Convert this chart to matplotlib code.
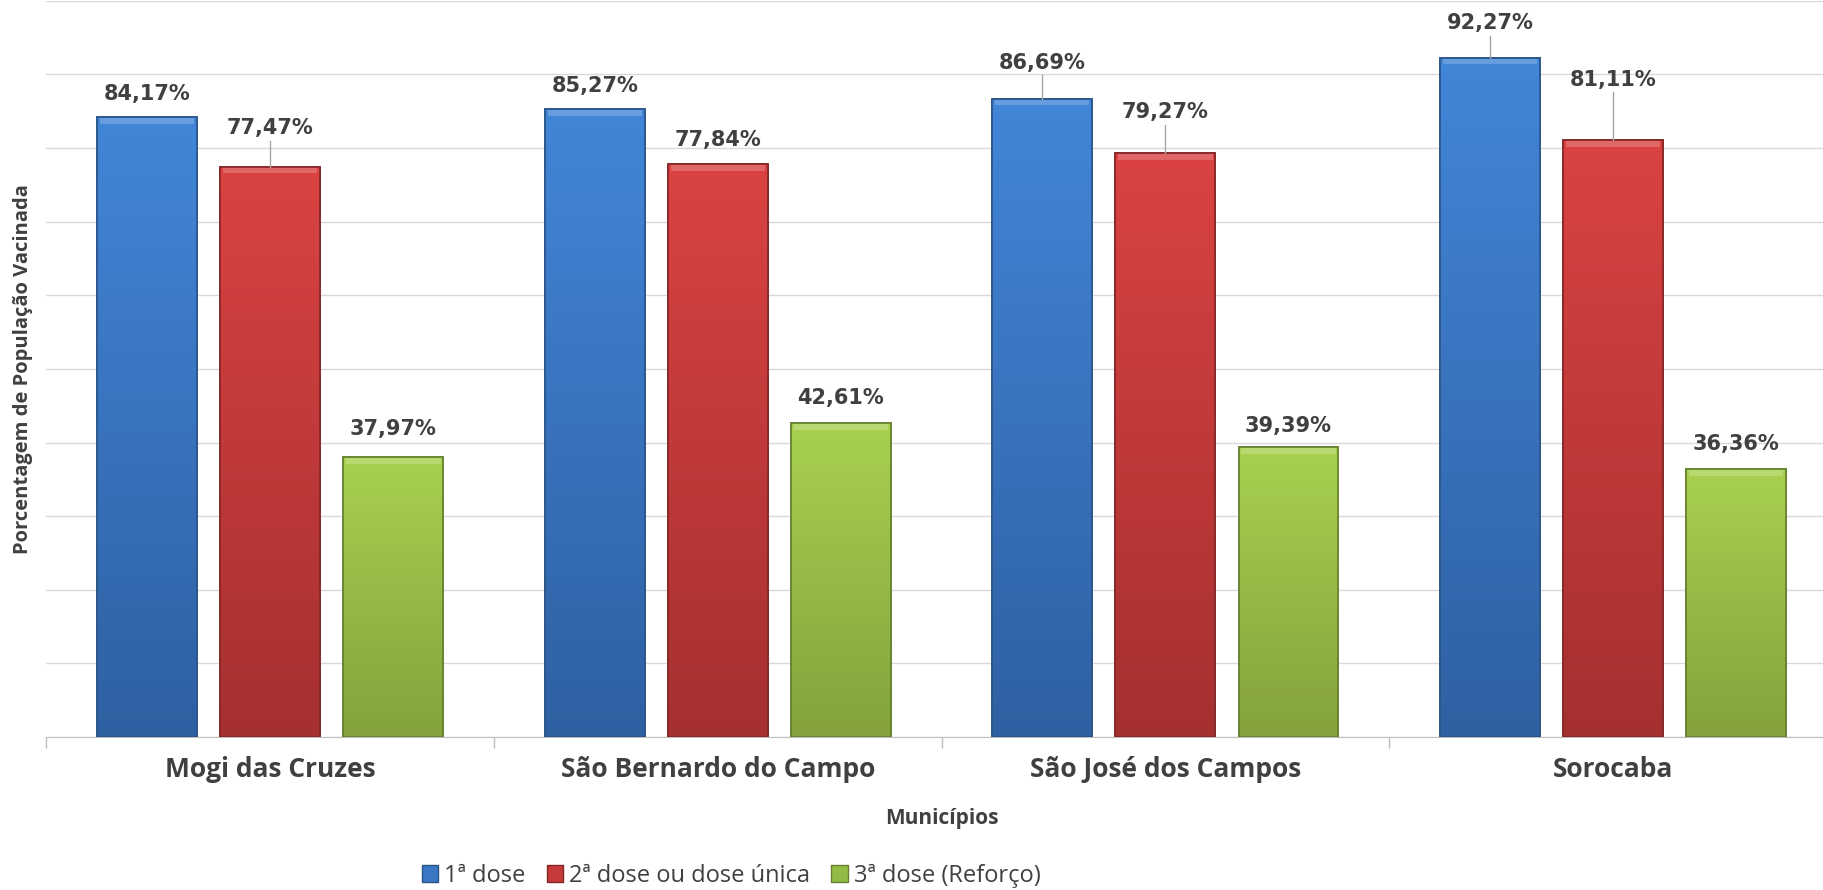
import matplotlib
matplotlib.use('Agg')
import matplotlib.pyplot as plt
import numpy as np
from matplotlib.patches import Patch
from matplotlib.colors import LinearSegmentedColormap

# data
municipios = ['Mogi das Cruzes', 'São Bernardo do Campo', 'São José dos Campos', 'Sorocaba']
series = ['1ª dose', '2ª dose ou dose única', '3ª dose (Reforço)']
dose1 = [84.17, 85.27, 86.69, 92.27]
dose2 = [77.47, 77.84, 79.27, 81.11]
dose3 = [37.97, 42.61, 39.39, 36.36]

# label offsets above bar (in %), larger ones get a leader line
off1 = [3.2, 3.2, 4.9, 4.7]
off2 = [5.2, 3.2, 5.6, 8.2]
off3 = [3.8, 3.4, 2.9, 3.4]

top_cols = ['#4286D8', '#DA4342', '#A8D14F']
bot_cols = ['#2F60A2', '#A53030', '#83A23D']
edge_cols = ['#2A5488', '#842626', '#66802F']
base_cols = ['#3A77C4', '#C63A3A', '#93BB45']

plt.rcParams['font.family'] = ['Open Sans', 'DejaVu Sans']

fig = plt.figure(figsize=(18.23, 8.90), dpi=100, facecolor='white')
ax = fig.add_axes([0.0255, 0.172, 0.982, 0.827])

x = np.arange(len(municipios))
width = 0.223
shift = 0.275
grad = np.linspace(0, 1, 256).reshape(-1, 1)

values = [dose1, dose2, dose3]
offsets = [off1, off2, off3]
for i, vals in enumerate(values):
    xs = x + (i - 1) * shift
    bars = ax.bar(xs, vals, width, color=base_cols[i], edgecolor=edge_cols[i],
                  linewidth=1.2, zorder=3)
    cmap = LinearSegmentedColormap.from_list('g%d' % i, [bot_cols[i], top_cols[i]])
    for b, v in zip(bars, vals):
        x0 = b.get_x()
        im = ax.imshow(grad, extent=[x0, x0 + width, 0, v], origin='lower',
                       cmap=cmap, aspect='auto', zorder=3.5, interpolation='bicubic')
        im.set_clip_path(b)
        # bevel highlight along the top
        ax.fill_between([x0 + 0.006, x0 + width - 0.006], v - 0.9, v - 0.1,
                        color='white', alpha=0.2, lw=0, zorder=3.6)
        ax.bar(x0 + width / 2, v, width, fill=False, edgecolor=edge_cols[i],
               linewidth=1.2, zorder=3.7)
    for xc, v, o in zip(xs, vals, offsets[i]):
        ly = v + o
        ax.text(xc, ly, ('%.2f%%' % v).replace('.', ','), ha='center', va='center',
                fontsize=15, fontweight='bold', color='#404040',
                family='DejaVu Sans', zorder=5)
        if o > 4:
            ax.plot([xc, xc], [v, ly - 1.7], color='#A6A6A6', lw=1, zorder=4)

ax.set_ylim(0, 100)
ax.set_xlim(-0.5, 3.5)
ax.set_yticks(np.arange(0, 101, 10))
ax.set_yticklabels([])
ax.tick_params(axis='y', length=0)
ax.yaxis.grid(True, color='#D9D9D9', lw=1)
ax.set_axisbelow(True)

ax.set_xticks(x)
ax.set_xticklabels(municipios, fontsize=19, fontweight='bold', color='#404040')
ax.tick_params(axis='x', which='major', length=0, pad=14)
ax.set_xticks(np.arange(-0.5, 3.6, 1), minor=True)
ax.tick_params(axis='x', which='minor', length=8, color='#BFBFBF', width=1)

for s in ['top', 'right', 'left']:
    ax.spines[s].set_visible(False)
ax.spines['bottom'].set_color('#BFBFBF')

ax.set_ylabel('Porcentagem de População Vacinada', fontsize=14.5, fontweight='bold',
              color='#404040', labelpad=6)
ax.set_xlabel('Municípios', fontsize=15, fontweight='bold', color='#404040', labelpad=18)

handles = [Patch(facecolor=base_cols[i], edgecolor=edge_cols[i], label=series[i])
           for i in range(3)]
fig.legend(handles=handles, loc='center', bbox_to_anchor=(0.401, 0.016), ncol=3,
           frameon=False, fontsize=17, handlelength=0.7, handleheight=0.7,
           handletextpad=0.25, columnspacing=0.9, labelcolor='#404040')

fig.savefig('out.png', dpi=100, facecolor='white')
